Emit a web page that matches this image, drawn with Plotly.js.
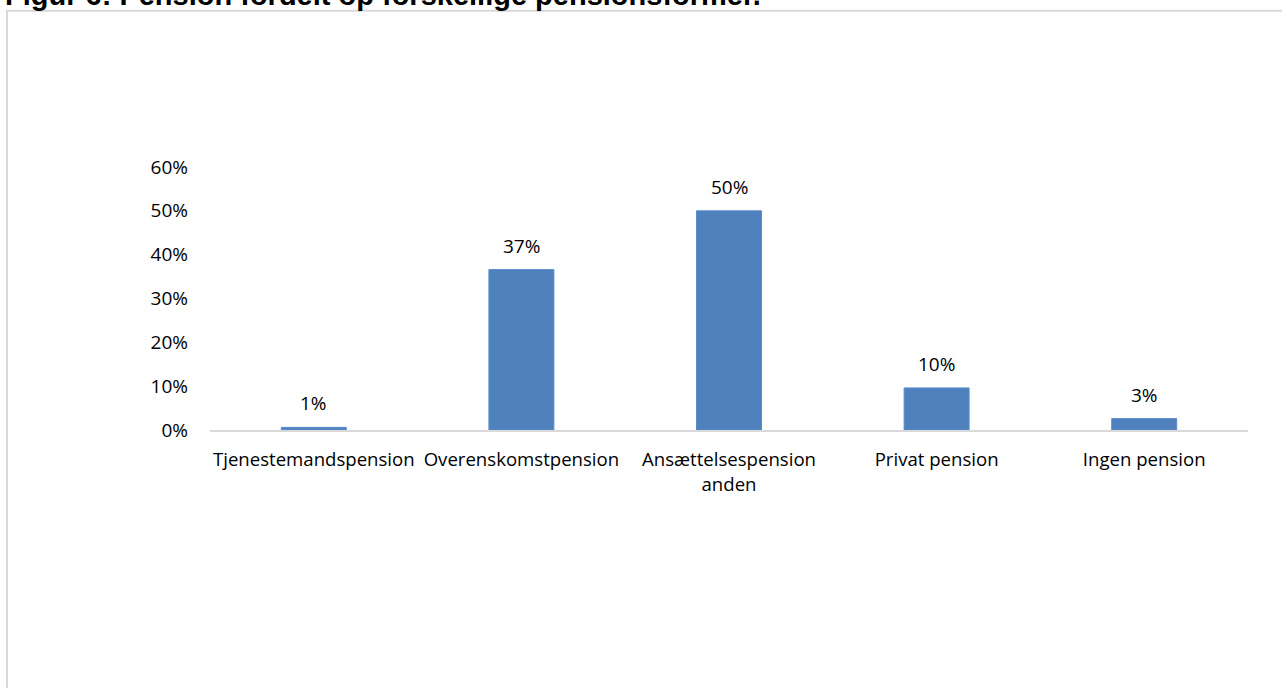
<!DOCTYPE html>
<html>
<head>
<meta charset="utf-8">
<script src="https://cdn.plot.ly/plotly-3.0.1.min.js"></script>
<style>
html, body { margin: 0; padding: 0; background: #fff; overflow: hidden; }
#chart { width: 1282px; height: 688px; }
</style>
</head>
<body>
<div id="chart"></div>
<script>
const titleText = "Figur 6: Pension fordelt op forskellige pensionsformer.";
const categories = ["Tjenestemandspension", "Overenskomstpension", "Ansættelsespension<br>anden", "Privat pension", "Ingen pension"];
const values = [0.006, 0.366, 0.50, 0.096, 0.026];
const tickValues = [0, 0.1, 0.2, 0.3, 0.4, 0.5, 0.6];
const tickLabels = ["0%", "10%", "20%", "30%", "40%", "50%", "60%"];

const FONT = "Open Sans, Noto Sans, sans-serif";

const trace = {
  type: "bar",
  x: categories,
  y: values,
  marker: { color: "#4f81bd", line: { color: "#5a8ccb", width: 1 } },
  hoverinfo: "none"
};

const labelAnnotations = categories.map((c, i) => ({
  x: c, y: values[i], xref: "x", yref: "y",
  text: Math.round(values[i] * 100) + "%",
  showarrow: false, yanchor: "middle", yshift: 24,
  font: { family: FONT, size: 19, color: "#000" }
}));

const layout = {
  width: 1282, height: 688,
  margin: { l: 210, r: 34, t: 167, b: 257.5, pad: 0 },
  paper_bgcolor: "rgba(0,0,0,0)",
  plot_bgcolor: "rgba(0,0,0,0)",
  showlegend: false,
  bargap: 0.687,
  xaxis: {
    type: "category",
    showgrid: false, zeroline: false,
    showline: true, linecolor: "#d9d9d9", linewidth: 2,
    ticks: "", ticklabelstandoff: 12,
    tickfont: { family: FONT, size: 18.6, color: "#000" },
    fixedrange: true
  },
  yaxis: {
    range: [0, 0.6],
    tickvals: tickValues, ticktext: tickLabels,
    showgrid: false, zeroline: false, showline: false,
    ticks: "", ticklabelstandoff: 21,
    tickfont: { family: FONT, size: 19, color: "#000" },
    fixedrange: true
  },
  shapes: [{
    type: "rect", xref: "paper", yref: "paper",
    x0: -0.1956, x1: 1.2, y0: -2, y1: 1.594,
    line: { color: "#d9d9d9", width: 2 }, layer: "below"
  }],
  annotations: [{
    text: "<b>" + titleText + "</b>",
    xref: "paper", yref: "paper", x: -0.1994, y: 1.653,
    xanchor: "left", yanchor: "middle", showarrow: false,
    font: { family: "Liberation Sans, Arial, sans-serif", size: 29, color: "#000" }
  }].concat(labelAnnotations)
};

Plotly.newPlot("chart", [trace], layout, { displayModeBar: false, staticPlot: true });
</script>
</body>
</html>
